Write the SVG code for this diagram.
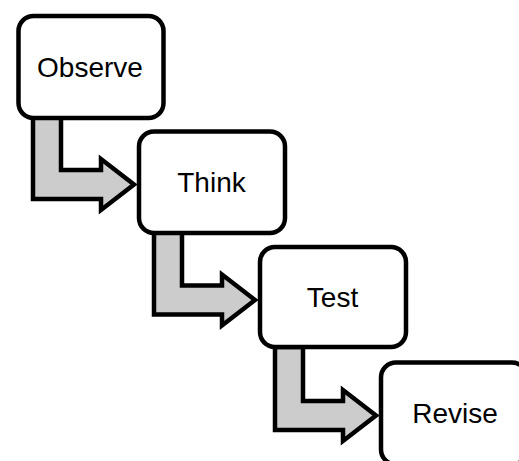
<svg xmlns="http://www.w3.org/2000/svg" width="519" height="461" viewBox="0 0 519 461">
<style>
.box{fill:#ffffff;stroke:#000000;stroke-width:4.5}
.lbl{font-family:"Liberation Sans",Arial,sans-serif;font-size:28px;fill:#000000;text-anchor:middle}
.arr{fill:#cccccc;stroke:#000000;stroke-width:4.5;stroke-linejoin:miter}
</style>
<defs>
<path id="bend" d="M33,116 H61 V170 H101 V159 L134,184.5 L101,210 V199 H33 Z"/>
</defs>
<rect width="519" height="461" fill="#ffffff"/>
<g id="connectors">
<use href="#bend" class="arr"/>
<use href="#bend" class="arr" transform="translate(121,115.5)"/>
<use href="#bend" class="arr" transform="translate(242,231)"/>
</g>
<g id="observe">
<rect class="box" x="18.5" y="16" width="145" height="102" rx="15"/>
<text class="lbl" x="90" y="77">Observe</text>
</g>
<g id="think">
<rect class="box" x="139" y="131.5" width="146" height="101.5" rx="15"/>
<text class="lbl" x="211.5" y="192">Think</text>
</g>
<g id="test">
<rect class="box" x="260" y="247" width="146" height="100" rx="15"/>
<text class="lbl" x="332.5" y="307">Test</text>
</g>
<g id="revise">
<rect class="box" x="381" y="362.5" width="146" height="102" rx="15"/>
<text class="lbl" x="455" y="423">Revise</text>
</g>
</svg>
